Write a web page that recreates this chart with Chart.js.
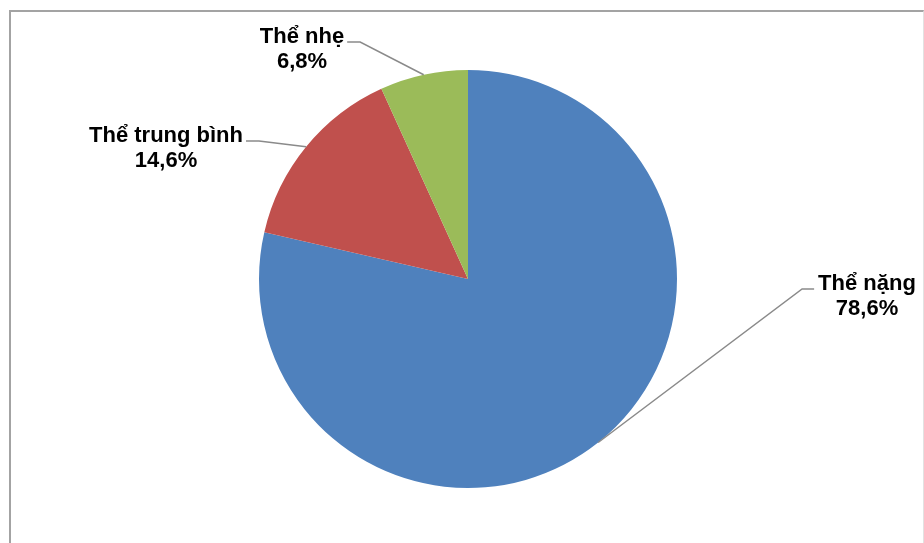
<!DOCTYPE html>
<html>
<head>
<meta charset="utf-8">
<script src="https://cdn.jsdelivr.net/npm/chart.js@4"></script>
<style>
    html, body { margin: 0; padding: 0; background: #fff; }
    body { width: 924px; height: 543px; position: relative; overflow: hidden; }
    .frame {
        position: absolute; left: 9px; top: 10px; width: 912px; height: 600px;
        border-left: 2px solid #a3a3a3; border-top: 2px solid #a3a3a3; border-right: 1px solid #e2e2e2;
    }
    #wrap { position: absolute; left: 0; top: 0; width: 924px; height: 543px; }
</style>
</head>
<body>
<div class="frame"></div>
<div id="wrap"><canvas id="pieChart"></canvas></div>
<script>
// du lieu
let categories = ["Thể nặng", "Thể trung bình", "Thể nhẹ"];
let percents = [78.6, 14.6, 6.8];
let percentText = ["78,6%", "14,6%", "6,8%"];
let sliceColors = ['#4F81BD', '#C0504D', '#9BBB59'];

// vi tri nhan (giua dong chu, baseline dong 1) va phia cua duong dan
let labelBoxes = [
    {x: 867, y: 290, side: 'right'},
    {x: 166, y: 142, side: 'left'},
    {x: 302, y: 43, side: 'left'}
];

const labelPlugin = {
    id: 'pieLabels',
    afterDatasetsDraw(chart){
        const ctx = chart.ctx;
        const arcs = chart.getDatasetMeta(0).data;
        ctx.save();
        ctx.font = "bold 22px 'Liberation Sans', Arial, sans-serif";
        arcs.forEach(function(arc, i){
            let mid = (arc.startAngle + arc.endAngle) / 2;
            let ax = arc.x + Math.cos(mid) * arc.outerRadius;
            let ay = arc.y + Math.sin(mid) * arc.outerRadius;
            let box = labelBoxes[i];
            let w = ctx.measureText(categories[i]).width;
            let lineY = box.y - 1;
            let endX, elbowX;
            if (box.side === 'right'){
                endX = box.x - w / 2 - 4;
                elbowX = endX - 12;
            } else {
                endX = box.x + w / 2 + 3;
                elbowX = endX + 13;
            }
            ctx.strokeStyle = '#8a8a8a';
            ctx.lineWidth = 1.5;
            ctx.beginPath();
            ctx.moveTo(ax, ay);
            ctx.lineTo(elbowX, lineY);
            ctx.lineTo(endX, lineY);
            ctx.stroke();

            ctx.fillStyle = '#000';
            ctx.textAlign = 'center';
            ctx.textBaseline = 'alphabetic';
            ctx.fillText(categories[i], box.x, box.y);
            ctx.fillText(percentText[i], box.x, box.y + 25);
        });
        ctx.restore();
    }
};

new Chart(document.getElementById("pieChart"), {
    type: 'pie',
    data: {
        labels: categories,
        datasets: [{
            data: percents,
            backgroundColor: sliceColors,
            borderWidth: 0
        }]
    },
    options: {
        responsive: true,
        maintainAspectRatio: false,
        animation: false,
        layout: {
            padding: {left: 100, right: 88, top: 70, bottom: 55}
        },
        plugins: {
            legend: {display: false},
            tooltip: {enabled: false}
        }
    },
    plugins: [labelPlugin]
});
</script>
</body>
</html>
